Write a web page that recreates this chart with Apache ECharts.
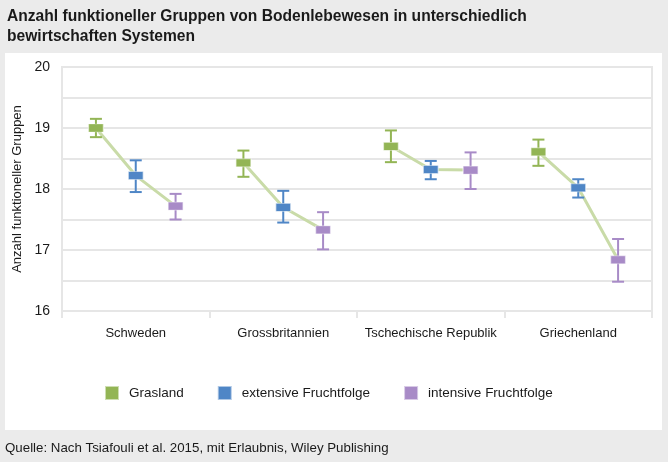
<!DOCTYPE html>
<html>
<head>
<meta charset="utf-8">
<script src="https://cdn.jsdelivr.net/npm/echarts@6/dist/echarts.min.js"></script>
<style>html,body{margin:0;padding:0;background:#ebebeb}#c{width:668px;height:462px}</style>
</head>
<body>
<div id="c"></div>
<script>
const categories = ['Schweden', 'Grossbritannien', 'Tschechische Republik', 'Griechenland'];
const seriesNames = ['Grasland', 'extensive Fruchtfolge', 'intensive Fruchtfolge'];
const grasland = [19.0, 18.43, 18.70, 18.61];
const graslandLow = [18.85, 18.20, 18.44, 18.38];
const graslandHigh = [19.15, 18.63, 18.96, 18.81];
const extensiv = [18.22, 17.70, 18.32, 18.02];
const extensivLow = [17.95, 17.45, 18.16, 17.86];
const extensivHigh = [18.47, 17.97, 18.46, 18.16];
const intensiv = [17.72, 17.33, 18.31, 16.84];
const intensivLow = [17.50, 17.01, 18.00, 16.48];
const intensivHigh = [17.92, 17.62, 18.60, 17.18];
const yTicks = [16, 17, 18, 19, 20];

const FONT = '"Liberation Sans", Arial, sans-serif';
const colors = ['#93b555', '#4f86c6', '#a88bc7'];
const offsets = [-0.27, 0, 0.27];
const means = [grasland, extensiv, intensiv];
const lows = [graslandLow, extensivLow, intensivLow];
const highs = [graslandHigh, extensivHigh, intensivHigh];

const xPos = (ci, si) => ci + 0.5 + offsets[si];

const series = [];
// connecting lines per country
categories.forEach((c, ci) => {
  series.push({
    type: 'line', xAxisIndex: 1, silent: true, symbol: 'none', z: 2,
    lineStyle: { color: '#c9dba8', width: 3 },
    data: means.map((m, si) => [xPos(ci, si), m[ci]])
  });
});
// error bars
means.forEach((m, si) => {
  series.push({
    type: 'custom', xAxisIndex: 1, silent: true, z: 3,
    data: categories.map((c, ci) => [xPos(ci, si), lows[si][ci], highs[si][ci]]),
    encode: { x: 0, y: [1, 2] },
    renderItem: (params, api) => {
      const lo = api.coord([api.value(0), api.value(1)]);
      const hi = api.coord([api.value(0), api.value(2)]);
      const hw = 6;
      const st = { stroke: colors[si], lineWidth: 2 };
      return { type: 'group', children: [
        { type: 'line', shape: { x1: lo[0], y1: lo[1], x2: hi[0], y2: hi[1] }, style: st },
        { type: 'line', shape: { x1: lo[0] - hw, y1: lo[1], x2: lo[0] + hw, y2: lo[1] }, style: st },
        { type: 'line', shape: { x1: hi[0] - hw, y1: hi[1], x2: hi[0] + hw, y2: hi[1] }, style: st }
      ]};
    }
  });
});
// markers
means.forEach((m, si) => {
  series.push({
    type: 'scatter', name: seriesNames[si], xAxisIndex: 1, z: 5,
    symbol: 'rect', symbolSize: [15, 8],
    itemStyle: { color: colors[si], borderColor: 'rgba(255,255,255,0.55)', borderWidth: 1, opacity: 1 },
    data: categories.map((c, ci) => [xPos(ci, si), m[ci]])
  });
});

const chart = echarts.init(document.getElementById('c'));
chart.setOption({
  backgroundColor: '#ebebeb',
  animation: false,
  textStyle: { fontFamily: FONT },
  graphic: [{ type: 'rect', z: -100, silent: true, shape: { x: 5, y: 53, width: 657, height: 377 }, style: { fill: '#ffffff' } }],
  title: [
    { text: 'Anzahl funktioneller Gruppen von Bodenlebewesen in unterschiedlich\nbewirtschaften Systemen',
      left: 7, top: 7, padding: 0,
      textStyle: { fontFamily: FONT, fontSize: 15.6, fontWeight: 'bold', color: '#1a1a1a', lineHeight: 20 } },
    { text: 'Quelle: Nach Tsiafouli et al. 2015, mit Erlaubnis, Wiley Publishing',
      left: 5, top: 442, padding: 0,
      textStyle: { fontFamily: FONT, fontSize: 13.3, fontWeight: 'normal', color: '#1a1a1a' } }
  ],
  legend: {
    left: 104, top: 385, padding: 0, itemWidth: 14, itemHeight: 14, itemGap: 33,
    icon: 'rect',
    data: seriesNames,
    textStyle: { fontFamily: FONT, fontSize: 13.5, color: '#1a1a1a', padding: [0, 0, 0, 5] }
  },
  grid: { left: 62, right: 16, top: 67, bottom: 151, show: true, borderColor: '#e6e6e6', borderWidth: 2, backgroundColor: 'transparent' },
  xAxis: [
    { type: 'category', data: categories, boundaryGap: true,
      axisLine: { show: true, lineStyle: { color: '#e6e6e6', width: 2 } },
      axisTick: { show: true, length: 7, interval: 0, lineStyle: { color: '#e6e6e6', width: 2 } },
      axisLabel: { margin: 16, interval: 0, fontFamily: FONT, fontSize: 13, color: '#1a1a1a' },
      splitLine: { show: false } },
    { type: 'value', min: 0, max: 4, show: false }
  ],
  yAxis: {
    type: 'value', min: yTicks[0], max: yTicks[yTicks.length - 1], interval: 0.5,
    name: 'Anzahl funktioneller Gruppen', nameLocation: 'middle', nameRotate: 90, nameGap: 38,
    nameTextStyle: { fontFamily: FONT, fontSize: 13, color: '#1a1a1a' },
    axisLine: { show: true, lineStyle: { color: '#e6e6e6', width: 2 } },
    axisTick: { show: false },
    axisLabel: { margin: 12, fontFamily: FONT, fontSize: 14, color: '#1a1a1a',
      formatter: v => (yTicks.includes(v) ? String(v) : '') },
    splitLine: { show: true, lineStyle: { color: '#e6e6e6', width: 2 } }
  },
  series: series
});
</script>
</body>
</html>
